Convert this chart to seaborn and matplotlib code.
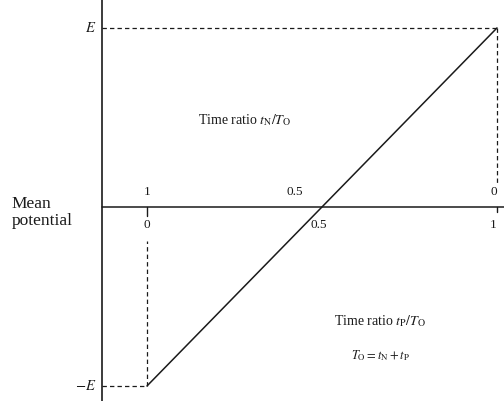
import matplotlib
matplotlib.use("Agg")
import matplotlib.pyplot as plt
import seaborn as sns
import pandas as pd

# Mean potential as a function of the time ratio t_P/T_O
ratio_p = [0.0, 1.0]          # t_P / T_O
mean_potential = [-1.0, 1.0]  # in units of E

# Tick values on the common horizontal axis
bottom_ticks = [0.0, 0.5, 1.0]          # t_P / T_O
bottom_labels = ["0", "0.5", "1"]
top_labels = ["1", "0.5", "0"]          # t_N / T_O = 1 - t_P / T_O

sns.set_theme(style="white")
plt.rcParams["font.family"] = ["Liberation Serif", "DejaVu Serif"]
plt.rcParams["mathtext.fontset"] = "stix"

fig = plt.figure(figsize=(5.04, 4.01), dpi=100)
ax = fig.add_axes([0, 0, 1, 1])
ax.set_xlim(-0.42, 1.02)
ax.set_ylim(-1.084, 1.156)
ax.axis("off")

ink = "#1a1a1a"
y_axis_x = -0.129

# Axes drawn as plain lines
ax.plot([y_axis_x, y_axis_x], [-1.084, 1.156], color=ink, lw=1.2)
ax.plot([y_axis_x, 1.02], [0, 0], color=ink, lw=1.1)

# Characteristic
df = pd.DataFrame({"ratio": ratio_p, "potential": mean_potential})
sns.lineplot(data=df, x="ratio", y="potential", ax=ax, color=ink, lw=1.1)

# Guide lines to +E and -E
dash = dict(color=ink, lw=0.9, ls=(0, (3.5, 2.5)))
ax.plot([y_axis_x, ratio_p[1]], [mean_potential[1]] * 2, **dash)
ax.plot([ratio_p[1]] * 2, [mean_potential[1], 0.12], **dash)
ax.plot([y_axis_x, ratio_p[0]], [mean_potential[0]] * 2, **dash)
ax.plot([ratio_p[0]] * 2, [mean_potential[0], -0.19], **dash)

# Small tick marks on the axis
ax.plot([0, 0], [0, -0.05], color=ink, lw=1.0)
ax.plot([1, 1], [0, -0.03], color=ink, lw=1.0)

fs = 9.5
top_shift = {"1": 0.0, "0.5": -0.077, "0": -0.01}
bottom_shift = {"0": 0.0, "0.5": -0.01, "1": -0.01}
for x, lab_b, lab_t in zip(bottom_ticks, bottom_labels, top_labels):
    ax.text(x + top_shift[lab_t], 0.085, lab_t, ha="center", va="center",
            fontsize=fs, color=ink)
    ax.text(x + bottom_shift[lab_b], -0.1, lab_b, ha="center", va="center",
            fontsize=fs, color=ink)

ax.text(y_axis_x - 0.015, mean_potential[1], "$E$", ha="right", va="center",
        fontsize=fs + 1, color=ink)
ax.text(y_axis_x - 0.015, mean_potential[0], "$-E$", ha="right", va="center",
        fontsize=fs + 1, color=ink)

ax.text(-0.386, -0.03, "Mean\npotential", ha="left", va="center",
        fontsize=12.5, color=ink, linespacing=1.05)

ax.text(0.28, 0.486, r"Time ratio $t_{\mathrm{N}}/T_{\mathrm{O}}$", ha="center",
        va="center", fontsize=fs + 0.5, color=ink)
ax.text(0.666, -0.64, r"Time ratio $t_{\mathrm{P}}/T_{\mathrm{O}}$", ha="center",
        va="center", fontsize=fs + 0.5, color=ink)
ax.text(0.666, -0.83, r"$T_{\mathrm{O}} = t_{\mathrm{N}} + t_{\mathrm{P}}$", ha="center",
        va="center", fontsize=fs - 0.5, color=ink)

fig.savefig("out.png", dpi=100, facecolor="white")
